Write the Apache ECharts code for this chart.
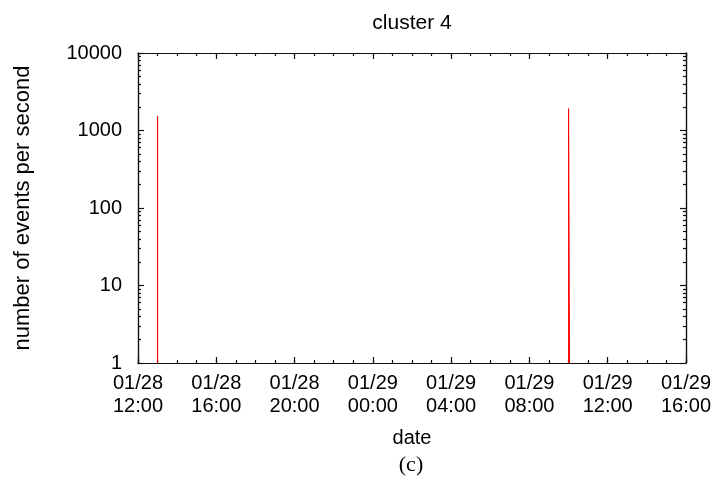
<!DOCTYPE html>
<html>
<head>
<meta charset="utf-8">
<script src="https://cdn.jsdelivr.net/npm/echarts@6/dist/echarts.min.js"></script>
<style>html,body{margin:0;padding:0;background:#fff}#c{width:726px;height:488px}</style>
</head>
<body>
<div id="c"></div>
<script>
// ---- data ----
const titleText = 'cluster 4';
const xName = 'date';
const yName = 'number of events per second';
const caption = '(c)';
const xMin = '2013-01-28 12:00';
const xMax = '2013-01-29 16:00';
const xMajorTicks = ['2013-01-28 12:00','2013-01-28 16:00','2013-01-28 20:00','2013-01-29 00:00','2013-01-29 04:00','2013-01-29 08:00','2013-01-29 12:00','2013-01-29 16:00'];
const yTickLabels = [1, 10, 100, 1000, 10000];
const yMinorTicks = [2,3,4,5,6,7,8,9,20,30,40,50,60,70,80,90,200,300,400,500,600,700,800,900,2000,3000,4000,5000,6000,7000,8000,9000];
const spike1Times = ['2013-01-28 13:00','2013-01-28 13:00','2013-01-28 13:00'];
const spike1Values = [1, 1525, 1];
const spike2Times = ['2013-01-29 10:00','2013-01-29 10:00','2013-01-29 10:03','2013-01-29 10:03'];
const spike2Values = [1, 1918, 1900, 1];

// ---- build ----
function ts(s){ const [d,t]=s.split(' '); const [Y,M,D]=d.split('-').map(Number); const [h,m]=t.split(':').map(Number); return new Date(Y,M-1,D,h,m).getTime(); }
const tMin = ts(xMin), tMax = ts(xMax);
const majorX = xMajorTicks.map(ts);
const minorX = [];
for (let t = tMin; t <= tMax; t += 3600000) minorX.push(t);
const pad = n => (n<10?'0':'')+n;
const fmt = v => { const d=new Date(v); return pad(d.getMonth()+1)+'/'+pad(d.getDate())+'\n'+pad(d.getHours())+':'+pad(d.getMinutes()); };

const font = 'Liberation Sans';
const black = '#000';
const lineStyle = {color: '#111', width: 1.2};

function xAx(pos, major, withLabel) {
  return {
    type: 'value', position: pos, min: tMin, max: tMax, gridIndex: 0, scale: true,
    axisLine: {show: true, lineStyle: lineStyle, onZero: false},
    axisTick: {show: true, inside: true, length: major ? 6 : 3, lineStyle: lineStyle, customValues: major ? majorX : minorX},
    axisLabel: withLabel ? {show: true, customValues: majorX, formatter: fmt, color: black, fontFamily: font, fontSize: 20, lineHeight: 23, margin: 9, hideOverlap: false, showMinLabel: true, showMaxLabel: true} : {show: false},
    splitLine: {show: false},
    name: withLabel ? xName : '', nameLocation: 'middle', nameGap: 65,
    nameTextStyle: {color: black, fontFamily: font, fontSize: 20}
  };
}
function yAx(pos, major, withLabel) {
  return {
    type: 'log', logBase: 10, position: pos, min: 1, max: 10000, gridIndex: 0,
    axisLine: {show: true, lineStyle: lineStyle},
    axisTick: {show: true, inside: true, length: major ? 6 : 3, lineStyle: lineStyle, customValues: major ? yTickLabels : yMinorTicks},
    axisLabel: withLabel ? {show: true, customValues: yTickLabels, color: black, fontFamily: font, fontSize: 20, margin: 16, formatter: v => String(Math.round(v))} : {show: false},
    splitLine: {show: false}, minorTick: {show: false},
    name: withLabel ? yName : '', nameLocation: 'middle', nameRotate: 90, nameGap: 104,
    nameTextStyle: {color: black, fontFamily: font, fontSize: 22}
  };
}

const chart = echarts.init(document.getElementById('c'), null, {renderer: 'canvas'});
chart.setOption({
  backgroundColor: '#fff',
  animation: false,
  title: [
    {text: titleText, left: 407, top: 8, textAlign: 'center', textStyle: {color: black, fontFamily: font, fontSize: 21, fontWeight: 'normal'}},
    {text: caption, left: 406, top: 449, textAlign: 'center', textStyle: {color: black, fontFamily: 'Liberation Serif', fontSize: 22, fontWeight: 'normal'}}
  ],
  grid: {left: 138, right: 40, top: 53, bottom: 125, containLabel: false},
  xAxis: [xAx('bottom', true, true), xAx('bottom', false, false), xAx('top', true, false), xAx('top', false, false)],
  yAxis: [yAx('left', true, true), yAx('left', false, false), yAx('right', true, false), yAx('right', false, false)],
  series: [
    {type: 'line', xAxisIndex: 0, yAxisIndex: 0, showSymbol: false, symbol: 'none', data: spike1Times.map((t,i)=>[ts(t), spike1Values[i]]), lineStyle: {color: '#ff0000', width: 1}, z: 5},
    {type: 'line', xAxisIndex: 0, yAxisIndex: 0, showSymbol: false, symbol: 'none', data: spike2Times.map((t,i)=>[ts(t), spike2Values[i]]), lineStyle: {color: '#ff0000', width: 1}, z: 5}
  ]
});
</script>
</body>
</html>
